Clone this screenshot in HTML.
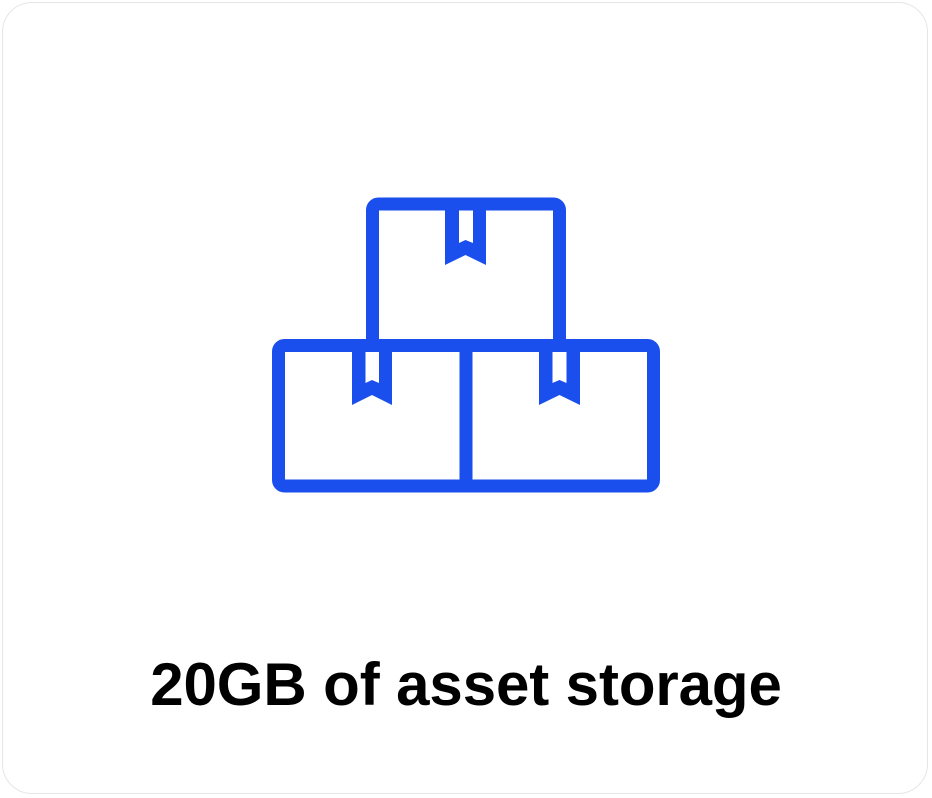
<!DOCTYPE html>
<html><head><style>
html,body{margin:0;padding:0;background:#fff;}
.card{position:absolute;left:2px;top:2px;width:926px;height:792px;border:1px solid #e6e6e6;border-radius:30px;box-sizing:border-box;background:#fff;}
.t{position:absolute;left:0;width:932px;top:645px;text-align:center;font-family:"Liberation Sans",sans-serif;font-weight:bold;font-size:60px;color:#000;letter-spacing:-0.1px;line-height:80px;}
</style></head><body>
<div class="card"></div>
<svg width="932" height="798" style="position:absolute;left:0;top:0">
<g fill="none" stroke="#1a4fee" stroke-width="13" stroke-linejoin="round">
<path d="M372.5 345.5 V210 a6 6 0 0 1 6 -6 H553.5 a6 6 0 0 1 6 6 V345.5"/>
<path d="M284.5 345.5 H647.5 a6 6 0 0 1 6 6 V480 a6 6 0 0 1 -6 6 H284.5 a6 6 0 0 1 -6 -6 V351.5 a6 6 0 0 1 6 -6 Z"/>
<line x1="466" y1="345.5" x2="466" y2="486"/>
</g>
<g fill="#1a4fee" fill-rule="evenodd">
<path d="M445 210 V265 L465.5 255 L486 265 V210 Z M459 210 V243 L465.5 240 L473 243 V210 Z"/>
<path d="M352 350 V405 L372 395 L392 405 V350 Z M365.5 350 V383 L372 380 L379 383 V350 Z"/>
<path d="M539 350 V405 L559.5 395 L580 405 V350 Z M552.5 350 V383 L559.5 380 L566.5 383 V350 Z"/>
</g>
</svg>
<div class="t">20GB of asset storage</div>
</body></html>
